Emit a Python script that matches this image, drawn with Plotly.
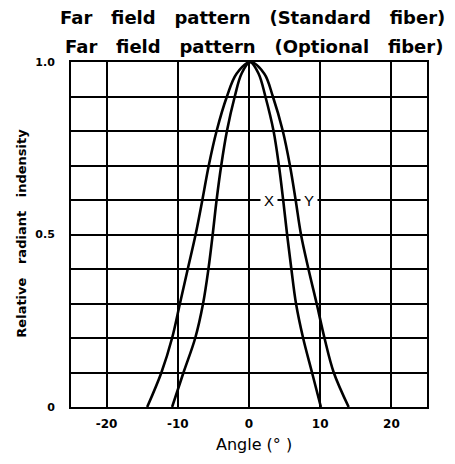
import plotly.graph_objects as go

# ---- data ----
intensity = [0, 0.1, 0.2, 0.3, 0.4, 0.5, 0.6, 0.7, 0.8, 0.9, 0.966, 1.0,
             0.966, 0.9, 0.8, 0.7, 0.6, 0.5, 0.4, 0.3, 0.2, 0.1, 0]
angle_narrow = [-10.8, -9.2, -7.55, -6.45, -5.7, -5.1, -4.55, -3.9, -3.1, -2.0, -1.05, 0.15,
                1.35, 2.3, 3.45, 4.2, 4.8, 5.35, 5.95, 6.6, 7.6, 8.85, 10.1]
angle_wide = [-14.3, -12.3, -10.8, -9.7, -8.6, -7.5, -6.55, -5.65, -4.55, -3.1, -1.75, 0.2,
              2.15, 3.35, 4.75, 5.75, 6.55, 7.3, 8.35, 9.5, 10.6, 11.9, 14.0]

x_ticks = [-20, -10, 0, 10, 20]
x_ticktext = ["-20", "-10", "0", "10", "20"]
y_grid = [0, 0.1, 0.2, 0.3, 0.4, 0.5, 0.6, 0.7, 0.8, 0.9, 1.0]
y_ticktext = ["0", "", "", "", "", "0.5", "", "", "", "", "1.0"]

NB = "\u00a0"
title1 = "Far" + NB * 3 + "field" + NB * 3 + "pattern" + NB * 3 + "(Standard" + NB * 3 + "fiber)"
title2 = "Far" + NB * 3 + "field" + NB * 3 + "pattern" + NB * 3 + "(Optional" + NB * 3 + "fiber)"
y_title = "Relative" + NB * 3 + "radiant" + NB * 3 + "indensity"
x_title = "Angle (\u00b0 )"
curve_labels = [("X", 2.8), ("Y", 8.4)]
label_level = 0.6

FONT = "Liberation Sans"
BOLD = "DejaVu Sans"

fig = go.Figure()
for ang in (angle_wide, angle_narrow):
    fig.add_trace(go.Scatter(x=ang, y=intensity, mode="lines",
                             line=dict(color="black", width=2.6, shape="spline", smoothing=1.0),
                             showlegend=False, hoverinfo="skip"))

annotations = []
for txt, ax in curve_labels:
    annotations.append(dict(x=ax, y=label_level, xref="x", yref="y", text=txt, showarrow=False,
                            font=dict(family=FONT, size=15, color="black"),
                            bgcolor="white", borderpad=3))
annotations += [
    dict(x=0.51, y=1.128, xref="paper", yref="paper", text="<b>" + title1 + "</b>",
         showarrow=False, xanchor="center", yanchor="middle", borderpad=0,
         font=dict(family=BOLD, size=18, color="black")),
    dict(x=0.515, y=1.046, xref="paper", yref="paper", text="<b>" + title2 + "</b>",
         showarrow=False, xanchor="center", yanchor="middle", borderpad=0,
         font=dict(family=BOLD, size=18, color="black")),
    dict(x=-0.138, y=0.505, xref="paper", yref="paper", text="<b>" + y_title + "</b>",
         showarrow=False, textangle=-90, xanchor="center", yanchor="middle",
         font=dict(family=BOLD, size=13, color="black")),
    dict(x=0.514, y=-0.11, xref="paper", yref="paper", text=x_title,
         showarrow=False, xanchor="center", yanchor="middle",
         font=dict(family="DejaVu Sans", size=16, color="black")),
]

# page body has an 8px margin, so the figure is sized/offset to compensate
fig.update_layout(
    width=447, height=456,
    margin=dict(l=63, r=28, t=54, b=57, autoexpand=False),
    paper_bgcolor="white", plot_bgcolor="white",
    annotations=annotations,
)
fig.update_xaxes(range=[-25, 25], tickvals=x_ticks, ticktext=x_ticktext,
                 showgrid=True, gridcolor="black", gridwidth=1.8, zeroline=False,
                 showline=True, linecolor="black", linewidth=2, mirror=True,
                 ticks="", ticklabelstandoff=5, automargin=False,
                 tickfont=dict(family=BOLD, size=12, color="black", weight="bold"))
fig.update_yaxes(range=[0, 1], tickvals=y_grid, ticktext=y_ticktext,
                 showgrid=True, gridcolor="black", gridwidth=1.8, zeroline=False,
                 showline=True, linecolor="black", linewidth=2, mirror=True,
                 ticks="", ticklabelstandoff=12, automargin=False,
                 tickfont=dict(family=BOLD, size=11, color="black", weight="bold"))

fig.write_html("out.html")
